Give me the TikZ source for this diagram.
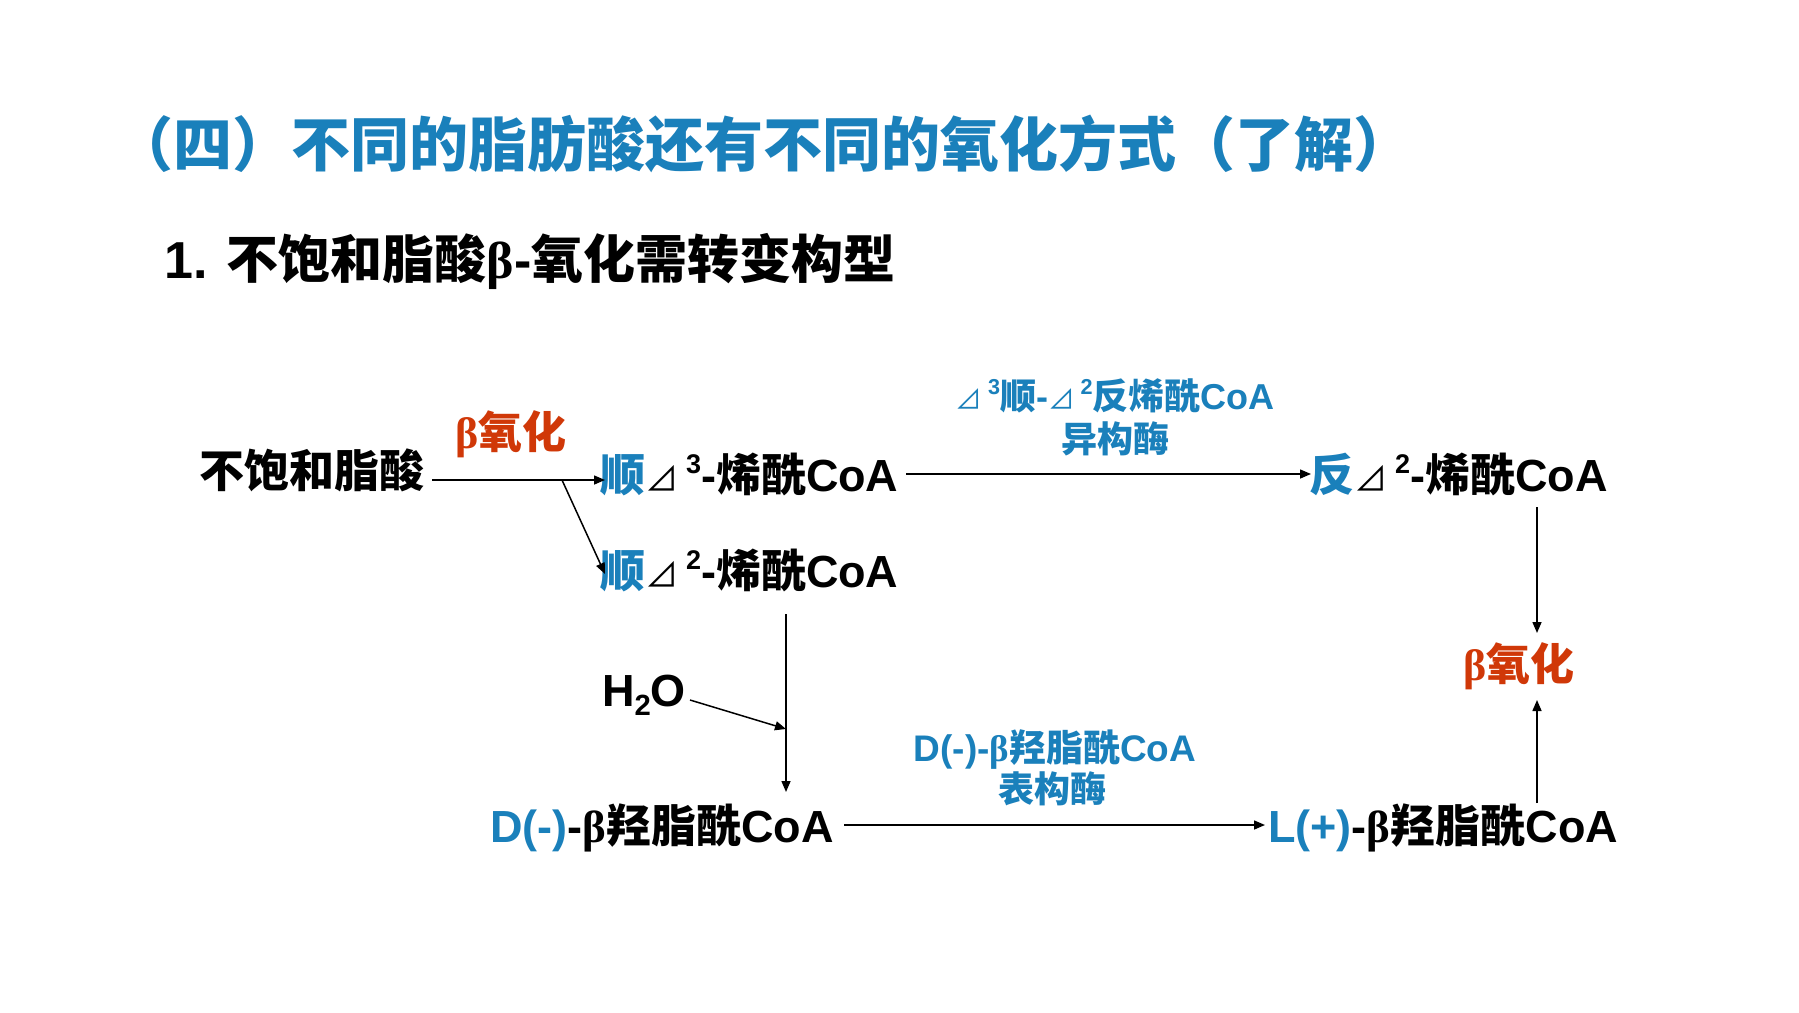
\documentclass[tikz,border=0pt]{standalone}
\usepackage{fontspec}
\setmainfont{Liberation Sans}
\newfontfamily\cjk{Noto Sans CJK SC}
\newfontfamily\serifb{Liberation Serif}
\usetikzlibrary{arrows.meta}
\definecolor{tblue}{RGB}{26,128,187}
\definecolor{tred}{RGB}{208,56,8}
\newcommand{\zh}[1]{{\cjk\bfseries #1}}
\newcommand{\bet}{{\serifb\bfseries β}}
\newcommand{\tri}{\scalebox{0.74}{\cjk\mdseries ⊿}}
\newcommand{\sups}[1]{\raisebox{0.40em}{\scalebox{0.6}{#1}}}
\newcommand{\subs}[1]{\raisebox{-0.22em}{\scalebox{0.65}{#1}}}
\tikzset{
  txt/.style={inner sep=0pt, anchor=base west, font=\fontsize{45}{54}\selectfont\bfseries},
  lbl/.style={inner sep=0pt, anchor=base, text=tblue, font=\fontsize{36}{43}\selectfont\bfseries},
  redt/.style={inner sep=0pt, anchor=base west, text=tred, font=\fontsize{44}{52}\selectfont\bfseries},
  arr/.style={line width=1.5pt, -{Triangle[length=11pt,width=9pt]}}
}
\begin{document}
\begin{tikzpicture}[x=1pt,y=-1pt]
\useasboundingbox (0,0) rectangle (1799,1012);
\fill[white] (0,0) rectangle (1799,1012);
% title
\node[inner sep=0pt, anchor=base, text=tblue, font=\fontsize{59}{70}\selectfont\bfseries] (title) at (763,166)
  {\zh{（四）不同的脂肪酸还有不同的氧化方式（了解）}};
\node[inner sep=0pt, anchor=base west, font=\fontsize{52}{62}\selectfont\bfseries] (sub) at (164,278)
  {1. \zh{不饱和脂酸}\bet-\zh{氧化需转变构型}};
% nodes
\node[txt] (s0) at (199,487) {\zh{不饱和脂酸}};
\node[redt] (b1) at (455,448) {\bet\zh{氧化}};
\node[txt] (c3) at (600,491) {\textcolor{tblue}{\zh{顺}}\tri\,\sups{3}-\zh{烯酰}CoA};
\node[txt] (c2) at (600,587) {\textcolor{tblue}{\zh{顺}}\tri\,\sups{2}-\zh{烯酰}CoA};
\node[txt] (t2) at (1309,491) {\textcolor{tblue}{\zh{反}}\tri\,\sups{2}-\zh{烯酰}CoA};
\node[lbl] (e1) at (1115,409) {\tri\,\sups{3}\zh{顺}-\tri\,\sups{2}\zh{反烯酰}CoA};
\node[lbl] (e2) at (1115,452) {\zh{异构酶}};
\node[redt] (b2) at (1463,680) {\bet\zh{氧化}};
\node[txt] (h2o) at (602,706) {H\subs{2}O};
\node[txt] (dh) at (490,842) {\textcolor{tblue}{D(-)}-\bet\zh{羟脂酰}CoA};
\node[lbl, font=\fontsize{37}{44}\selectfont\bfseries] (f1) at (1055,761) {D(-)-\bet\zh{羟脂酰}CoA};
\node[lbl] (f2) at (1052,802) {\zh{表构酶}};
\node[txt] (lh) at (1268,842) {\textcolor{tblue}{L(+)}-\bet\zh{羟脂酰}CoA};
% connector points
\coordinate (p1) at (432,480);
\coordinate (br) at (562,480);
\coordinate (p2) at (605,480);
\coordinate (q2) at (605,574);
\coordinate (u1) at (906,474);
\coordinate (u2) at (1311,474);
\coordinate (r1) at (1537,507);
\coordinate (r2) at (1537,633);
\coordinate (r3) at (1537,803);
\coordinate (r4) at (1537,700);
\coordinate (v1) at (786,614);
\coordinate (v2) at (786,792);
\coordinate (hw) at (690,700);
\coordinate (hv) at (786,729);
\coordinate (w1) at (844,825);
\coordinate (w2) at (1265,825);
% connectors
\draw[arr] (p1) -- (p2);
\draw[arr] (br) -- (q2);
\draw[arr] (u1) -- (u2);
\draw[arr] (r1) -- (r2);
\draw[arr] (r3) -- (r4);
\draw[arr] (v1) -- (v2);
\draw[arr] (hw) -- (hv);
\draw[arr] (w1) -- (w2);
\end{tikzpicture}
\end{document}
